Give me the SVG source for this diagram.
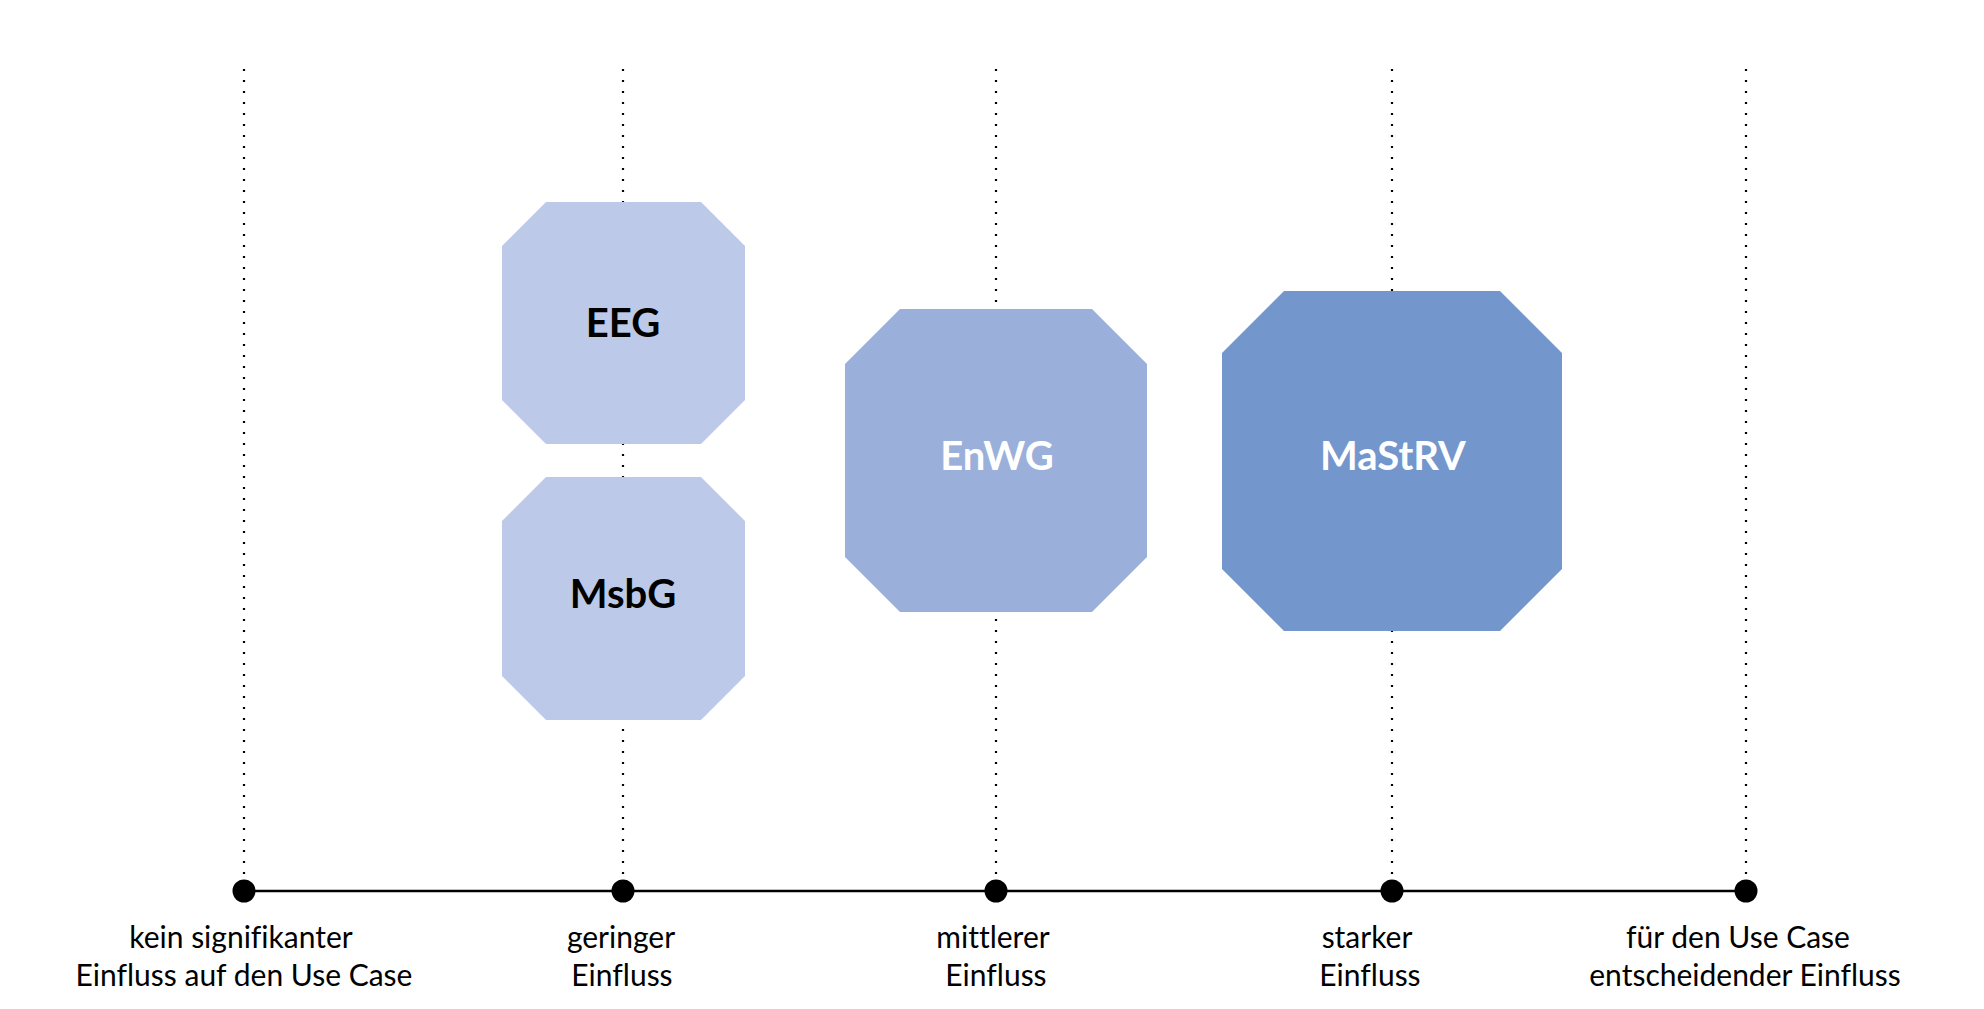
<svg xmlns="http://www.w3.org/2000/svg" width="1984" height="1009" viewBox="0 0 1984 1009">
<style>
.guide{stroke:#000;stroke-width:2.2;stroke-dasharray:2 9;fill:none}
.axis{stroke:#000;stroke-width:2.6;fill:none}
.dot{fill:#000}
.lbl{font-family:Lato,"Liberation Sans",sans-serif;font-size:30px;fill:#000;text-anchor:middle;font-variant-ligatures:none}
.nt{font-family:Lato,"Liberation Sans",sans-serif;font-size:40px;font-weight:bold;text-anchor:middle}
.l1{fill:#BCC9E8}
.l2{fill:#9AB0DB}
.l3{fill:#7396CC}
</style>
<rect width="1984" height="1009" fill="#fff"/>
<g id="connectors">
<line class="guide" x1="244" y1="69" x2="244" y2="880"/>
<line class="guide" x1="623" y1="69" x2="623" y2="880"/>
<line class="guide" x1="996" y1="69" x2="996" y2="880"/>
<line class="guide" x1="1392" y1="69" x2="1392" y2="880"/>
<line class="guide" x1="1746" y1="69" x2="1746" y2="880"/>
<line class="axis" x1="244" y1="891" x2="1746" y2="891"/>
</g>
<g id="axis-points">
<circle class="dot" cx="244" cy="891" r="11.5"/>
<circle class="dot" cx="623" cy="891" r="11.5"/>
<circle class="dot" cx="996" cy="891" r="11.5"/>
<circle class="dot" cx="1392" cy="891" r="11.5"/>
<circle class="dot" cx="1746" cy="891" r="11.5"/>
</g>
<g id="labels">
<text class="lbl" x="241" y="948">kein signifikanter</text>
<text class="lbl" x="244" y="986">Einfluss auf den Use Case</text>
<text class="lbl" x="621" y="948">geringer</text>
<text class="lbl" x="622" y="986">Einfluss</text>
<text class="lbl" x="993" y="948">mittlerer</text>
<text class="lbl" x="996" y="986">Einfluss</text>
<text class="lbl" x="1367" y="948">starker</text>
<text class="lbl" x="1370" y="986">Einfluss</text>
<text class="lbl" x="1738" y="948">für den Use Case</text>
<text class="lbl" x="1745" y="986">entscheidender Einfluss</text>
</g>
<g id="node-EEG">
<polygon class="l1" points="546,202 701,202 745,246 745,400 701,444 546,444 502,400 502,246"/>
<text class="nt" x="623" y="337" fill="#000">EEG</text>
</g>
<g id="node-MsbG">
<polygon class="l1" points="546,477 701,477 745,521 745,676 701,720 546,720 502,676 502,521"/>
<text class="nt" x="623" y="608" fill="#000">MsbG</text>
</g>
<g id="node-EnWG">
<polygon class="l2" points="900,309 1092,309 1147,364 1147,557 1092,612 900,612 845,557 845,364"/>
<text class="nt" x="997" y="470" fill="#fff">EnWG</text>
</g>
<g id="node-MaStRV">
<polygon class="l3" points="1284,291 1500,291 1562,353 1562,569 1500,631 1284,631 1222,569 1222,353"/>
<text class="nt" x="1393" y="470" fill="#fff">MaStRV</text>
</g>
</svg>
